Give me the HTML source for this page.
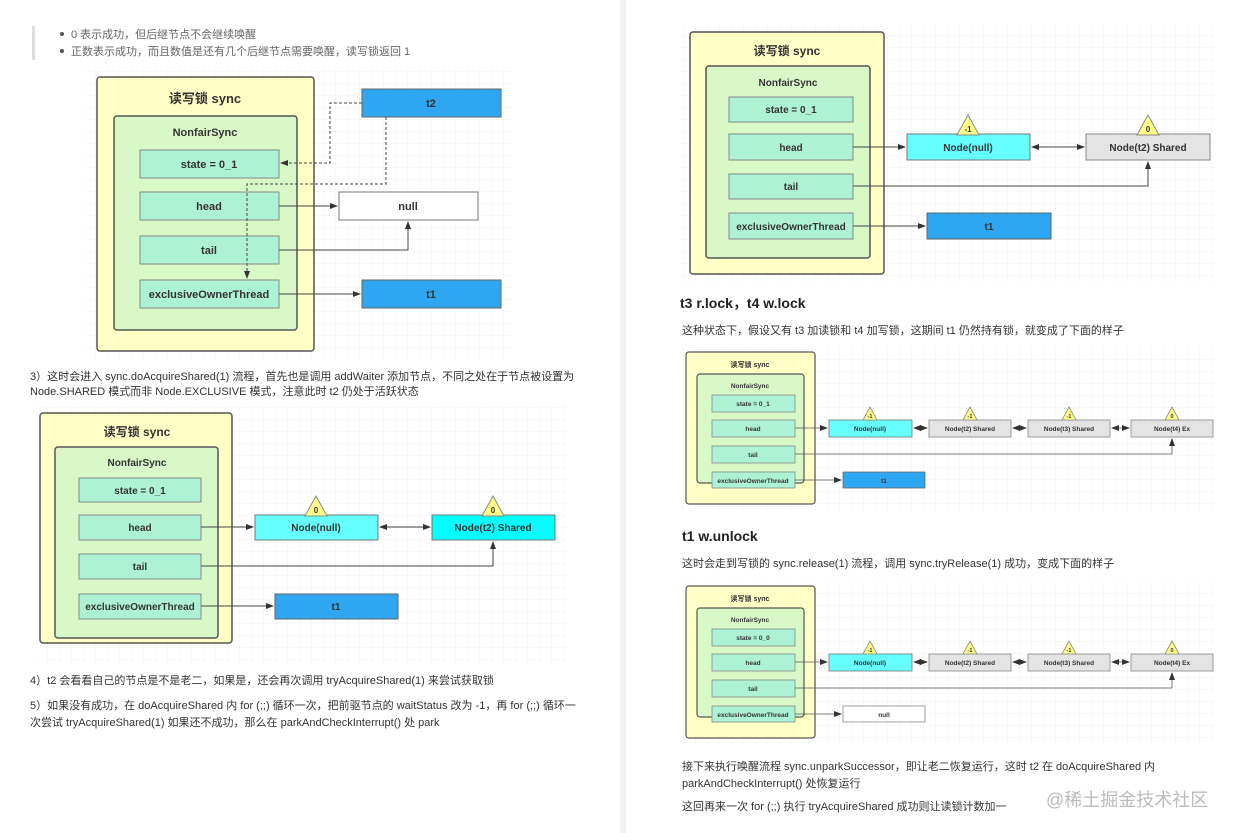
<!DOCTYPE html>
<html><head><meta charset="utf-8"><style>
body{margin:0;background:#fff;width:1240px;height:833px;overflow:hidden}
svg{display:block}
text{font-family:"Liberation Sans","Noto Sans CJK SC",sans-serif}
.b{font-weight:bold;fill:#333}
.p{fill:#333;font-size:11px}
</style></head><body>
<svg width="1240" height="833" viewBox="0 0 1240 833" xmlns="http://www.w3.org/2000/svg">
<defs>
<pattern id="g" width="12" height="12" patternUnits="userSpaceOnUse"><path d="M12 0V12H0" fill="none" stroke="#f0f0f0" stroke-width="1"/></pattern>
<marker id="a" markerWidth="8" markerHeight="8" refX="7" refY="4" orient="auto" markerUnits="userSpaceOnUse"><path d="M0,1 L8,4 L0,7z" fill="#333"/></marker>
<marker id="s" markerWidth="8" markerHeight="8" refX="1" refY="4" orient="auto" markerUnits="userSpaceOnUse"><path d="M8,1 L0,4 L8,7z" fill="#333"/></marker>
</defs>
<rect x="620" y="0" width="6" height="833" fill="#f2f2f2"/>
<!-- top bullets -->
<rect x="32" y="26" width="3" height="34" fill="#ddd"/>
<circle cx="62" cy="34" r="2" fill="#555"/><circle cx="62" cy="51" r="2" fill="#555"/>
<text x="71" y="38" class="p" fill="#555" style="fill:#666">0 表示成功，但后继节点不会继续唤醒</text>
<text x="71" y="55" class="p" style="fill:#666">正数表示成功，而且数值是还有几个后继节点需要唤醒，读写锁返回 1</text>

<!-- Diagram 1 -->
<rect x="85" y="68" width="428" height="290" fill="url(#g)"/>
<rect x="97" y="77" width="217" height="274" rx="3" fill="#ffffc6" stroke="#555" stroke-width="1.5"/>
<text x="205" y="103" class="b" font-size="13" text-anchor="middle">读写锁 sync</text>
<rect x="114" y="116" width="183" height="214" rx="3" fill="#d8f8c8" stroke="#555" stroke-width="1.5"/>
<text x="205" y="136" class="b" font-size="11" text-anchor="middle">NonfairSync</text>
<g fill="#aef2d6" stroke="#888">
<rect x="140" y="150" width="139" height="28"/><rect x="140" y="192" width="139" height="28"/>
<rect x="140" y="236" width="139" height="28"/><rect x="140" y="280" width="139" height="28"/></g>
<g class="b" font-size="11" text-anchor="middle">
<text x="209" y="168">state = 0_1</text><text x="209" y="210">head</text>
<text x="209" y="254">tail</text><text x="209" y="298">exclusiveOwnerThread</text></g>
<rect x="362" y="89" width="139" height="28" fill="#2ea6f2" stroke="#666"/>
<text x="431" y="107" class="b" font-size="11" text-anchor="middle">t2</text>
<rect x="339" y="192" width="139" height="28" fill="#fff" stroke="#777"/>
<text x="408" y="210" class="b" font-size="11" text-anchor="middle">null</text>
<rect x="362" y="280" width="139" height="28" fill="#2ea6f2" stroke="#666"/>
<text x="431" y="298" class="b" font-size="11" text-anchor="middle">t1</text>
<g fill="none" stroke="#444" stroke-width="1">
<path d="M362 103H330V163H281" stroke-dasharray="3,2" marker-end="url(#a)"/>
<path d="M386 117V184H247V278" stroke-dasharray="3,2" marker-end="url(#a)"/>
<path d="M279 206H337" marker-end="url(#a)"/>
<path d="M279 250H408V222" marker-end="url(#a)"/>
<path d="M279 294H360" marker-end="url(#a)"/></g>

<text x="30" y="380" class="p">3）这时会进入 sync.doAcquireShared(1) 流程，首先也是调用 addWaiter 添加节点，不同之处在于节点被设置为</text>
<text x="30" y="395" class="p">Node.SHARED 模式而非 Node.EXCLUSIVE 模式，注意此时 t2 仍处于活跃状态</text>

<!-- Diagram 2 -->
<rect x="38" y="405" width="528" height="258" fill="url(#g)"/>
<rect x="40" y="413" width="192" height="230" rx="3" fill="#ffffc6" stroke="#555" stroke-width="1.5"/>
<text x="137" y="436" class="b" font-size="12" text-anchor="middle">读写锁 sync</text>
<rect x="55" y="447" width="163" height="191" rx="3" fill="#d8f8c8" stroke="#555" stroke-width="1.5"/>
<text x="137" y="466" class="b" font-size="10" text-anchor="middle">NonfairSync</text>
<g fill="#aef2d6" stroke="#888">
<rect x="79" y="478" width="122" height="24"/><rect x="79" y="515" width="122" height="25"/>
<rect x="79" y="554" width="122" height="25"/><rect x="79" y="594" width="122" height="25"/></g>
<g class="b" font-size="10" text-anchor="middle">
<text x="140" y="494">state = 0_1</text><text x="140" y="531">head</text>
<text x="140" y="570">tail</text><text x="140" y="610">exclusiveOwnerThread</text></g>
<rect x="255" y="515" width="123" height="25" fill="#66ffff" stroke="#777"/>
<text x="316" y="531" class="b" font-size="10" text-anchor="middle">Node(null)</text>
<rect x="432" y="515" width="123" height="25" fill="#00ffff" stroke="#777"/>
<text x="493" y="531" class="b" font-size="10" text-anchor="middle">Node(t2) Shared</text>
<path d="M316 496L327 516H305z" fill="#ffff88" stroke="#888"/><text x="316" y="513" font-size="8" text-anchor="middle" class="b">0</text>
<path d="M493 496L504 516H482z" fill="#ffff88" stroke="#888"/><text x="493" y="513" font-size="8" text-anchor="middle" class="b">0</text>
<rect x="275" y="594" width="123" height="25" fill="#2ea6f2" stroke="#666"/>
<text x="336" y="610" class="b" font-size="10" text-anchor="middle">t1</text>
<g fill="none" stroke="#444">
<path d="M201 527H253" marker-end="url(#a)"/>
<path d="M380 527H430" marker-end="url(#a)" marker-start="url(#s)"/>
<path d="M201 566H493V542" marker-end="url(#a)"/>
<path d="M201 606H273" marker-end="url(#a)"/></g>

<text x="30" y="684" class="p">4）t2 会看看自己的节点是不是老二，如果是，还会再次调用 tryAcquireShared(1) 来尝试获取锁</text>
<text x="30" y="709" class="p">5）如果没有成功，在 doAcquireShared 内 for (;;) 循环一次，把前驱节点的 waitStatus 改为 -1，再 for (;;) 循环一</text>
<text x="30" y="726" class="p">次尝试 tryAcquireShared(1) 如果还不成功，那么在 parkAndCheckInterrupt() 处 park</text>

<!-- Diagram 3 -->
<rect x="680" y="25" width="535" height="258" fill="url(#g)"/>
<rect x="690" y="32" width="194" height="242" rx="3" fill="#ffffc6" stroke="#555" stroke-width="1.5"/>
<text x="787" y="55" class="b" font-size="12" text-anchor="middle">读写锁 sync</text>
<rect x="706" y="66" width="164" height="192" rx="3" fill="#d8f8c8" stroke="#555" stroke-width="1.5"/>
<text x="788" y="86" class="b" font-size="10" text-anchor="middle">NonfairSync</text>
<g fill="#aef2d6" stroke="#888">
<rect x="729" y="97" width="124" height="25"/><rect x="729" y="134" width="124" height="26"/>
<rect x="729" y="174" width="124" height="25"/><rect x="729" y="213" width="124" height="26"/></g>
<g class="b" font-size="10" text-anchor="middle">
<text x="791" y="113">state = 0_1</text><text x="791" y="151">head</text>
<text x="791" y="190">tail</text><text x="791" y="230">exclusiveOwnerThread</text></g>
<rect x="907" y="134" width="123" height="26" fill="#66ffff" stroke="#777"/>
<text x="968" y="151" class="b" font-size="10" text-anchor="middle">Node(null)</text>
<rect x="1086" y="134" width="124" height="26" fill="#e4e4e4" stroke="#888"/>
<text x="1148" y="151" class="b" font-size="10" text-anchor="middle">Node(t2) Shared</text>
<path d="M968 115L979 135H957z" fill="#ffff88" stroke="#888"/><text x="968" y="132" font-size="8" text-anchor="middle" class="b">-1</text>
<path d="M1148 115L1159 135H1137z" fill="#ffff88" stroke="#888"/><text x="1148" y="132" font-size="8" text-anchor="middle" class="b">0</text>
<rect x="927" y="213" width="124" height="26" fill="#2ea6f2" stroke="#666"/>
<text x="989" y="230" class="b" font-size="10" text-anchor="middle">t1</text>
<g fill="none" stroke="#444">
<path d="M853 147H905" marker-end="url(#a)"/>
<path d="M1032 147H1084" marker-end="url(#a)" marker-start="url(#s)"/>
<path d="M853 186H1148V162" marker-end="url(#a)"/>
<path d="M853 226H925" marker-end="url(#a)"/></g>

<text x="680" y="308" class="b" font-size="14" style="fill:#222">t3 r.lock，t4 w.lock</text>
<text x="682" y="334" class="p">这种状态下，假设又有 t3 加读锁和 t4 加写锁，这期间 t1 仍然持有锁，就变成了下面的样子</text>

<!-- Diagram 4 -->
<rect x="683" y="348" width="532" height="162" fill="url(#g)"/>
<rect x="686" y="352" width="129" height="152" rx="3" fill="#ffffc6" stroke="#555" stroke-width="1.2"/>
<text x="750" y="367" class="b" font-size="7" text-anchor="middle">读写锁 sync</text>
<rect x="697" y="374" width="107" height="109" rx="3" fill="#d8f8c8" stroke="#555" stroke-width="1.2"/>
<text x="750" y="388" class="b" font-size="6.5" text-anchor="middle">NonfairSync</text>
<g fill="#aef2d6" stroke="#888" stroke-width=".8">
<rect x="712" y="395" width="83" height="17"/><rect x="712" y="420" width="83" height="17"/>
<rect x="712" y="446" width="83" height="17"/><rect x="712" y="472" width="83" height="16"/></g>
<g class="b" font-size="6.5" text-anchor="middle">
<text x="753" y="406">state = 0_1</text><text x="753" y="431">head</text>
<text x="753" y="457">tail</text><text x="753" y="483">exclusiveOwnerThread</text></g>
<rect x="829" y="420" width="83" height="17" fill="#66ffff" stroke="#777" stroke-width=".8"/>
<rect x="929" y="420" width="82" height="17" fill="#e4e4e4" stroke="#888" stroke-width=".8"/>
<rect x="1028" y="420" width="82" height="17" fill="#e4e4e4" stroke="#888" stroke-width=".8"/>
<rect x="1131" y="420" width="82" height="17" fill="#e4e4e4" stroke="#888" stroke-width=".8"/>
<g class="b" font-size="6.5" text-anchor="middle">
<text x="870" y="431">Node(null)</text><text x="970" y="431">Node(t2) Shared</text>
<text x="1069" y="431">Node(t3) Shared</text><text x="1172" y="431">Node(t4) Ex</text></g>
<g fill="#ffff88" stroke="#888" stroke-width=".8">
<path d="M870 407L877 420H863z"/><path d="M970 407L977 420H963z"/><path d="M1069 407L1076 420H1062z"/><path d="M1172 407L1179 420H1165z"/></g>
<g font-size="5.5" text-anchor="middle" class="b"><text x="870" y="418">-1</text><text x="970" y="418">-1</text><text x="1069" y="418">-1</text><text x="1172" y="418">0</text></g>
<rect x="843" y="472" width="82" height="16" fill="#2ea6f2" stroke="#666" stroke-width=".8"/>
<text x="884" y="483" class="b" font-size="6.5" text-anchor="middle">t1</text>
<g fill="none" stroke="#555" stroke-width=".8">
<path d="M795 428H827" marker-end="url(#a)"/>
<path d="M914 428H927" marker-end="url(#a)" marker-start="url(#s)"/>
<path d="M1013 428H1026" marker-end="url(#a)" marker-start="url(#s)"/>
<path d="M1112 428H1129" marker-end="url(#a)" marker-start="url(#s)"/>
<path d="M795 454H1172V439" marker-end="url(#a)"/>
<path d="M795 480H841" marker-end="url(#a)"/></g>

<text x="682" y="541" class="b" font-size="14" style="fill:#222">t1 w.unlock</text>
<text x="682" y="567" class="p">这时会走到写锁的 sync.release(1) 流程，调用 sync.tryRelease(1) 成功，变成下面的样子</text>

<!-- Diagram 5 -->
<g transform="translate(0,234)">
<rect x="683" y="348" width="532" height="162" fill="url(#g)"/>
<rect x="686" y="352" width="129" height="152" rx="3" fill="#ffffc6" stroke="#555" stroke-width="1.2"/>
<text x="750" y="367" class="b" font-size="7" text-anchor="middle">读写锁 sync</text>
<rect x="697" y="374" width="107" height="109" rx="3" fill="#d8f8c8" stroke="#555" stroke-width="1.2"/>
<text x="750" y="388" class="b" font-size="6.5" text-anchor="middle">NonfairSync</text>
<g fill="#aef2d6" stroke="#888" stroke-width=".8">
<rect x="712" y="395" width="83" height="17"/><rect x="712" y="420" width="83" height="17"/>
<rect x="712" y="446" width="83" height="17"/><rect x="712" y="472" width="83" height="16"/></g>
<g class="b" font-size="6.5" text-anchor="middle">
<text x="753" y="406">state = 0_0</text><text x="753" y="431">head</text>
<text x="753" y="457">tail</text><text x="753" y="483">exclusiveOwnerThread</text></g>
<rect x="829" y="420" width="83" height="17" fill="#66ffff" stroke="#777" stroke-width=".8"/>
<rect x="929" y="420" width="82" height="17" fill="#e4e4e4" stroke="#888" stroke-width=".8"/>
<rect x="1028" y="420" width="82" height="17" fill="#e4e4e4" stroke="#888" stroke-width=".8"/>
<rect x="1131" y="420" width="82" height="17" fill="#e4e4e4" stroke="#888" stroke-width=".8"/>
<g class="b" font-size="6.5" text-anchor="middle">
<text x="870" y="431">Node(null)</text><text x="970" y="431">Node(t2) Shared</text>
<text x="1069" y="431">Node(t3) Shared</text><text x="1172" y="431">Node(t4) Ex</text></g>
<g fill="#ffff88" stroke="#888" stroke-width=".8">
<path d="M870 407L877 420H863z"/><path d="M970 407L977 420H963z"/><path d="M1069 407L1076 420H1062z"/><path d="M1172 407L1179 420H1165z"/></g>
<g font-size="5.5" text-anchor="middle" class="b"><text x="870" y="418">-1</text><text x="970" y="418">-1</text><text x="1069" y="418">-1</text><text x="1172" y="418">0</text></g>
<rect x="843" y="472" width="82" height="16" fill="#fff" stroke="#888" stroke-width=".8"/>
<text x="884" y="483" class="b" font-size="6.5" text-anchor="middle">null</text>
<g fill="none" stroke="#555" stroke-width=".8">
<path d="M795 428H827" marker-end="url(#a)"/>
<path d="M914 428H927" marker-end="url(#a)" marker-start="url(#s)"/>
<path d="M1013 428H1026" marker-end="url(#a)" marker-start="url(#s)"/>
<path d="M1112 428H1129" marker-end="url(#a)" marker-start="url(#s)"/>
<path d="M795 454H1172V439" marker-end="url(#a)"/>
<path d="M795 480H841" marker-end="url(#a)"/></g>
</g>

<text x="682" y="770" class="p">接下来执行唤醒流程 sync.unparkSuccessor，即让老二恢复运行，这时 t2 在 doAcquireShared 内</text>
<text x="682" y="787" class="p">parkAndCheckInterrupt() 处恢复运行</text>
<text x="682" y="810" class="p">这回再来一次 for (;;) 执行 tryAcquireShared 成功则让读锁计数加一</text>
<text x="1046" y="806" font-size="18" fill="#bbb">@稀土掘金技术社区</text>
</svg>
</body></html>
